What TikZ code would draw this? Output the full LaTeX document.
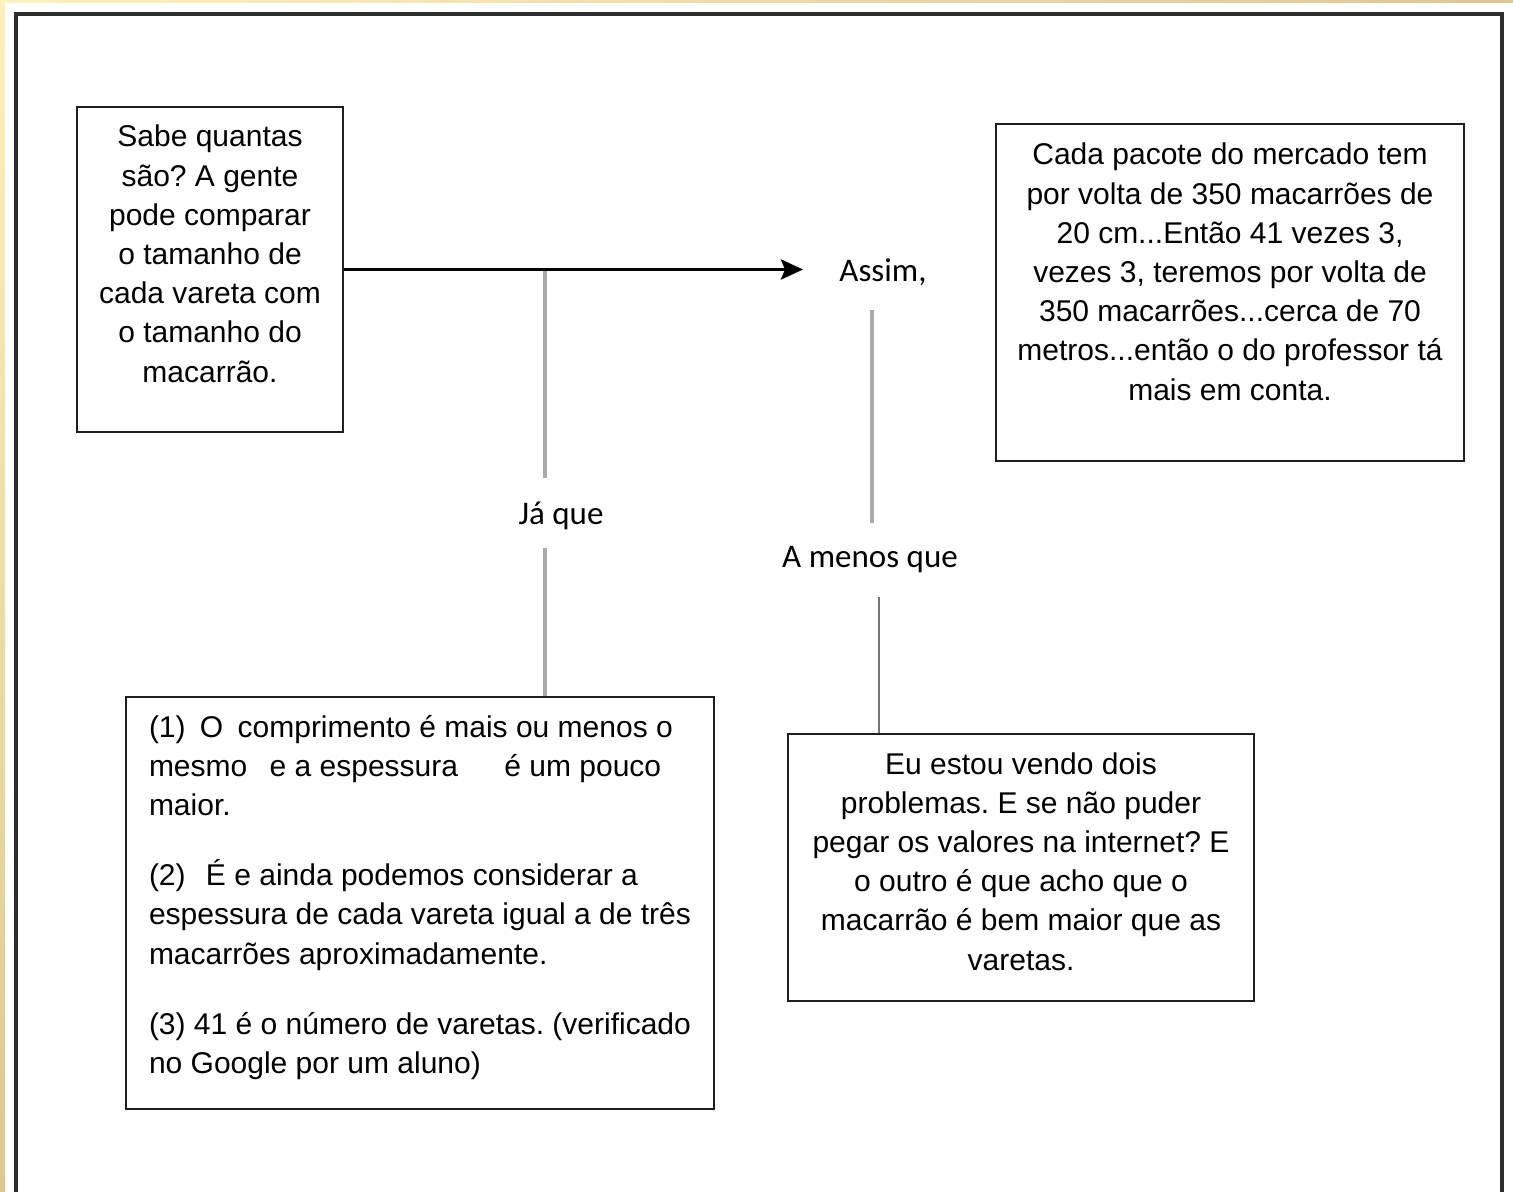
\documentclass[tikz,border=0pt]{standalone}
\usepackage{fontspec}
\setmainfont{Liberation Sans}
\newfontfamily\calib{Carlito}
\usetikzlibrary{arrows.meta}
\frenchspacing
\definecolor{paleyel}{RGB}{255,240,190}
\definecolor{tanyel}{RGB}{220,200,145}
\definecolor{framegray}{RGB}{45,45,45}
\definecolor{linegray}{RGB}{170,170,170}
\definecolor{linedark}{RGB}{115,115,115}
\tikzset{
  boxnode/.style={draw=black!88, line width=1pt, rectangle, inner sep=0pt},
  boxtext/.style={inner sep=0pt, outer sep=0pt, font=\fontsize{15}{19.6}\selectfont},
  linklabel/.style={inner sep=0pt, font=\calib\fontsize{16.5}{19}\selectfont},
  mainarrow/.style={line width=1.8pt, -{Stealth[length=11pt,width=10pt,inset=2pt]}},
  softlink/.style={draw=linegray, line width=1.6pt},
  darklink/.style={draw=linedark, line width=1.2pt}
}
\begin{document}
\begin{tikzpicture}[x=0.5pt,y=-0.5pt]
\useasboundingbox (0,0) rectangle (1513,1192);
\clip (0,0) rectangle (1513,1192);
% background strips
\shade[top color=paleyel, bottom color=tanyel] (0,0) rectangle (5,1192);
\shade[left color=paleyel, right color=tanyel] (0,0) rectangle (1513,3);
% outer frame
\draw[framegray, line width=1.6pt] (16,14) rectangle (1502,1210);

% boxes
\node[boxnode, minimum width=133pt, minimum height=162.5pt] (A) at (210,269.5) {};
\node[boxnode, minimum width=234pt, minimum height=168.5pt] (B) at (1230,292.5) {};
\node[boxnode, minimum width=294pt, minimum height=206pt] (C) at (420,903) {};
\node[boxnode, minimum width=233pt, minimum height=133.5pt] (D) at (1021,867.5) {};

% box texts
\node[boxtext, anchor=base] (tA) at (210,147) {\parbox[t]{140pt}{\centering
Sabe quantas\\ são? A gente\\ pode comparar\\ o tamanho de\\ cada vareta com\\ o tamanho do\\ macarrão.}};
\node[boxtext, anchor=base] (tB) at (1230,165) {\parbox[t]{230pt}{\centering
Cada pacote do mercado tem\\ por volta de 350 macarrões de\\ 20 cm...Então 41 vezes 3,\\ vezes 3, teremos por volta de\\ 350 macarrões...cerca de 70\\ metros...então o do professor tá\\ mais em conta.}};
\node[boxtext, anchor=base west] (tC) at (149,737) {\parbox[t]{290pt}{\raggedright
(1)\hspace{3pt} O\hspace{3pt} comprimento é mais ou menos o\\ mesmo\hspace{7pt} e a espessura\hspace{19pt} é um pouco\\ maior.\\[15.5pt]
(2)\hspace{6pt} É e ainda podemos considerar a\\ espessura de cada vareta igual a de três\\ macarrões aproximadamente.\\[15.5pt]
(3) 41 é o número de varetas. (verificado\\ no Google por um aluno)}};
\node[boxtext, anchor=base] (tD) at (1021,774) {\parbox[t]{230pt}{\centering
Eu estou vendo dois\\ problemas. E se não puder\\ pegar os valores na internet? E\\ o outro é que acho que o\\ macarrão é bem maior que as\\ varetas.}};

% connector labels
\node[linklabel] (assim) at (883,272) {Assim,};
\node[linklabel] (jaque) at (561,516) {Já que};
\node[linklabel] (menos) at (870,560) {A menos que};

% coordinates for connector ends
\coordinate (aEnd) at (803,269.5);
\coordinate (jTop) at (545,269.5);
\coordinate (jA) at (545,478);
\coordinate (jB) at (545,548);
\coordinate (mA) at (872,310);
\coordinate (mB) at (872,523);
\coordinate (mC) at (879,597);

% connectors
\draw[softlink] (jTop) -- (jA);
\draw[softlink] (jB) -- (C.north -| jB);
\draw[softlink] (mA) -- (mB);
\draw[darklink] (mC) -- (D.north -| mC);
\draw[mainarrow] (A.east) -- (aEnd);
\end{tikzpicture}
\end{document}
